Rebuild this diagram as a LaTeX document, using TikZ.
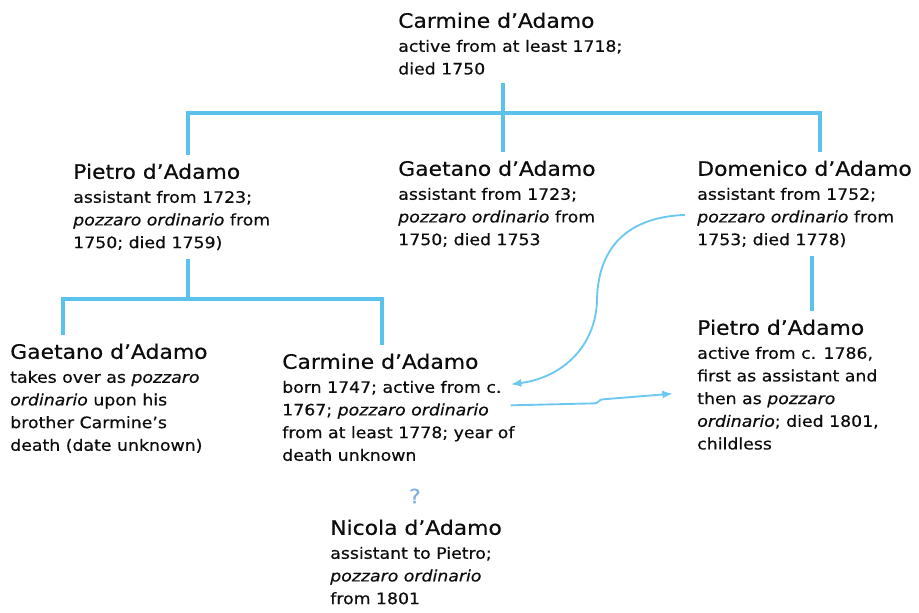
\documentclass[tikz,border=0pt]{standalone}
\usepackage{fontspec}
\setmainfont{DejaVu Sans}[FakeStretch=1.1,FakeBold=0.5]
\usetikzlibrary{arrows.meta}
\definecolor{treeblue}{HTML}{5BC2EC}
\definecolor{linkblue}{HTML}{6CC8F0}
\definecolor{qblue}{HTML}{7FB0DD}
\definecolor{ink}{HTML}{0D0D0D}
\newcommand\pname[1]{{\fontsize{14.9}{17}\selectfont #1}\\[1pt]}

\begin{document}
\begin{tikzpicture}[x=0.75pt,y=-0.75pt,
    person/.style={anchor=north west,align=left,inner sep=0pt,outer ysep=6.5pt,text=ink,font=\fontsize{11.8}{17}\selectfont},
    tree/.style={treeblue,line width=3pt},
    link/.style={linkblue,line width=1.4pt,-{Latex[length=8pt,width=6pt]}}]
\useasboundingbox (0,0) rectangle (919,612);
\path
    (188,113) coordinate (j1)
    (503,113) coordinate (j2)
    (820,113) coordinate (j3)
    (188,299) coordinate (j4)
    (63,299) coordinate (j5)
    (382,299) coordinate (j6)
    (812,0) coordinate (j7)
    (597,300) coordinate (bend)
    ;
\node[person] (carmine) at (398,4) {\pname{Carmine d’Adamo}active from at least 1718;\\died 1750};
\node[person] (pietro) at (73,155) {\pname{Pietro d’Adamo}assistant from 1723;\\\textit{pozzaro ordinario} from\\1750; died 1759)};
\node[person] (gaetano) at (398,152) {\pname{Gaetano d’Adamo}assistant from 1723;\\\textit{pozzaro ordinario} from\\1750; died 1753};
\node[person] (domenico) at (697,152) {\pname{Domenico d’Adamo}assistant from 1752;\\\textit{pozzaro ordinario} from\\1753; died 1778)};
\node[person] (gaetanoB) at (10,335) {\pname{Gaetano d’Adamo}takes over as \textit{pozzaro}\\\textit{ordinario} upon his\\brother Carmine’s\\death (date unknown)};
\node[person] (carmineB) at (282,345) {\pname{Carmine d’Adamo}born 1747; active from c.\\1767; \textit{pozzaro ordinario}\\from at least 1778; year of\\death unknown};
\node[person] (pietroB) at (697,311) {\pname{Pietro d’Adamo}active from c. 1786,\\first as assistant and\\then as \textit{pozzaro}\\\textit{ordinario}; died 1801,\\childless};
\node[text=qblue,font=\fontsize{15}{17}\selectfont] (query) at (415,496) {?};
\node[person] (nicola) at (330,511) {\pname{Nicola d’Adamo}assistant to Pietro;\\\textit{pozzaro ordinario}\\from 1801};

\draw[tree] (carmine.south -| j2) -- (gaetano.north -| j2);
\draw[tree] (pietro.north -| j1) -- (j1) -- (j3) -- (domenico.north -| j3);
\draw[tree] (pietro.south -| j4) -- (j4);
\draw[tree] (gaetanoB.north -| j5) -- (j5) -- (j6) -- (carmineB.north -| j6);
\draw[tree] (domenico.south -| j7) -- (pietroB.north -| j7);

\draw[link] ([shift={(-12,11)}]domenico.west) .. controls +(-55,2) and +(1,-55) .. (bend)
    .. controls +(-1,45) and +(53,-7) .. ([shift={(-4,-23)}]carmineB.east);
\draw[link] ([shift={(-4,-2)}]carmineB.east) -- ++(84,-2) .. controls +(4,0) and +(-4,0) .. ++(8,-4)
    -- ([shift={(-24,9)}]pietroB.west);
\end{tikzpicture}
\end{document}
